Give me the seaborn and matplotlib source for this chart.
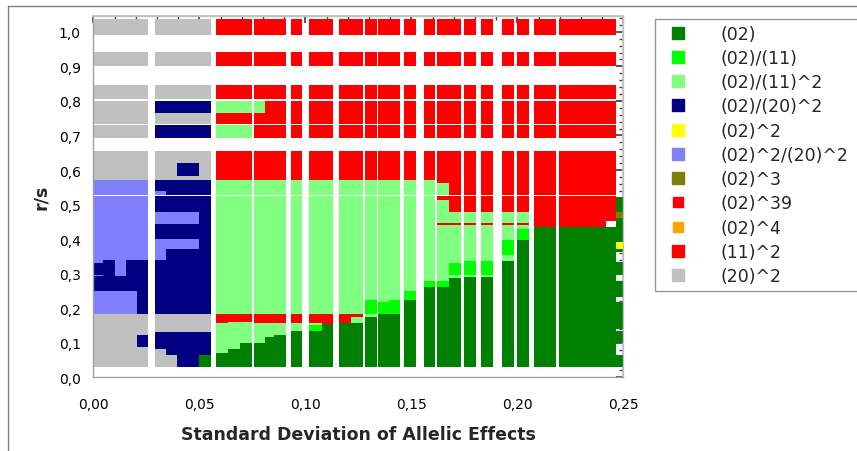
import matplotlib
matplotlib.use("Agg")
import matplotlib.pyplot as plt
import seaborn as sns
from matplotlib.lines import Line2D
from matplotlib.ticker import MultipleLocator, FuncFormatter

# ---------------- categories / colours ----------------
codes = ["DG", "BG", "LG", "NV", "YE", "LV", "OL", "R39", "OR", "RD", "GR"]
labels = ["(02)", "(02)/(11)", "(02)/(11)^2", "(02)/(20)^2", "(02)^2",
          "(02)^2/(20)^2", "(02)^3", "(02)^39", "(02)^4", "(11)^2", "(20)^2"]
colors = ["#008000", "#00ff00", "#80ff80", "#000080", "#ffff00",
          "#8080ff", "#808000", "#ff0000", "#ffa500", "#ff0000", "#c0c0c0"]
marker_sizes = [9, 9, 9, 9, 9, 9, 9, 7, 7, 9, 9]

# ---------------- row bands (r/s) ----------------
upper_bands = [(0.992, 1.036), (0.900, 0.942), (0.807, 0.845),
               (0.734, 0.766), (0.766, 0.801), (0.694, 0.729)]
mid_base = 0.529
low_base = 0.029

GRAY6 = ["GR"] * 6
RED6 = ["RD"] * 6
NONE6 = [None] * 6

# ---------------- sub-columns (SD of allelic effects) ----------------
sub_x0 = [0.0000, 0.0047, 0.0102, 0.0153, 0.0205,
          0.0291, 0.0343, 0.0393, 0.0499,
          0.0577, 0.0634, 0.0692,
          0.0759, 0.0810, 0.0852,
          0.0933, 0.1019, 0.1077, 0.1159, 0.1216,
          0.1282, 0.1341, 0.1392, 0.1464, 0.1560,
          0.1623, 0.1679, 0.1749, 0.1827, 0.1928, 0.1997,
          0.2079, 0.2197, 0.2417, 0.2467]
sub_x1 = [0.0047, 0.0102, 0.0153, 0.0205, 0.0259,
          0.0343, 0.0393, 0.0499, 0.0555,
          0.0634, 0.0692, 0.0749,
          0.0810, 0.0852, 0.0909,
          0.0986, 0.1077, 0.1132, 0.1216, 0.1274,
          0.1338, 0.1392, 0.1447, 0.1521, 0.1613,
          0.1679, 0.1733, 0.1805, 0.1884, 0.1984, 0.2054,
          0.2184, 0.2417, 0.2467, 0.2499]

sub_upper = ([GRAY6] * 5 +
             [["GR", "GR", "GR", "GR", "NV", "NV"]] * 4 +
             [["RD", "RD", "RD", "RD", "LG", "LG"]] * 3 +
             [["RD", "RD", "RD", "RD", "LG", "RD"]] +
             [RED6] * 21 +
             [NONE6])

mid_c1 = [("LV", 0.572), ("GR", 0.654)]
mid_lg = [("LG", 0.572), ("RD", 0.654)]
mid_rd = [("RD", 0.654)]
sub_mid = ([mid_c1] * 5 +
           [[("LV", 0.540), ("NV", 0.572), ("GR", 0.654)],
            [("NV", 0.572), ("GR", 0.654)],
            [("NV", 0.572), ("GR", 0.584), ("NV", 0.621), ("GR", 0.654)],
            [("NV", 0.572), ("GR", 0.654)]] +
           [mid_lg] * 16 +
           [[("LG", 0.563), ("RD", 0.654)]] +
           [mid_rd] * 8 +
           [[]])

sub_low = [
    [("GR", 0.1835), ("LV", 0.251), ("NV", 0.293), ("LV", 0.297), ("NV", 0.331), ("LV", 0.526)],
    [("GR", 0.1835), ("LV", 0.251), ("NV", 0.340), ("LV", 0.526)],
    [("GR", 0.1835), ("LV", 0.251), ("NV", 0.293), ("LV", 0.526)],
    [("GR", 0.1835), ("LV", 0.251), ("NV", 0.340), ("LV", 0.526)],
    [("GR", 0.087), ("NV", 0.1226), ("GR", 0.1835), ("NV", 0.340), ("LV", 0.526)],
    [("GR", 0.082), ("NV", 0.132), ("GR", 0.1835), ("NV", 0.340), ("LV", 0.401), ("NV", 0.444), ("LV", 0.478), ("NV", 0.526)],
    [("GR", 0.065), ("NV", 0.132), ("GR", 0.1835), ("NV", 0.372), ("LV", 0.401), ("NV", 0.444), ("LV", 0.478), ("NV", 0.526)],
    [("NV", 0.132), ("GR", 0.1835), ("NV", 0.372), ("LV", 0.401), ("NV", 0.444), ("LV", 0.478), ("NV", 0.526)],
    [("DG", 0.065), ("NV", 0.132), ("GR", 0.1835), ("NV", 0.526)],
    [("DG", 0.070), ("LG", 0.157), ("RD", 0.1835), ("LG", 0.526)],
    [("DG", 0.082), ("LG", 0.159), ("RD", 0.1835), ("LG", 0.526)],
    [("DG", 0.0994), ("LG", 0.159), ("RD", 0.1835), ("LG", 0.526)],
    [("DG", 0.0994), ("LG", 0.158), ("RD", 0.1835), ("LG", 0.526)],
    [("DG", 0.116), ("LG", 0.158), ("RD", 0.1835), ("LG", 0.526)],
    [("DG", 0.1226), ("LG", 0.158), ("RD", 0.1835), ("LG", 0.526)],
    [("DG", 0.134), ("LG", 0.158), ("RD", 0.1835), ("LG", 0.526)],
    [("DG", 0.134), ("BG", 0.152), ("LG", 0.158), ("RD", 0.1835), ("LG", 0.526)],
    [("DG", 0.155), ("RD", 0.1835), ("LG", 0.526)],
    [("DG", 0.158), ("RD", 0.1835), ("LG", 0.526)],
    [("DG", 0.158), ("LG", 0.1757), ("RD", 0.1835), ("LG", 0.526)],
    [("DG", 0.174), ("LG", 0.1835), ("BG", 0.224), ("LG", 0.526)],
    [("DG", 0.1835), ("BG", 0.217), ("LG", 0.526)],
    [("DG", 0.1835), ("BG", 0.224), ("LG", 0.526)],
    [("DG", 0.224), ("BG", 0.249), ("LG", 0.526)],
    [("DG", 0.261), ("BG", 0.280), ("LG", 0.526)],
    [("DG", 0.261), ("BG", 0.280), ("LG", 0.441), ("RD", 0.446), ("LG", 0.512), ("RD", 0.526)],
    [("DG", 0.287), ("LG", 0.297), ("BG", 0.331), ("LG", 0.441), ("RD", 0.446), ("LG", 0.478), ("RD", 0.526)],
    [("DG", 0.290), ("LG", 0.297), ("BG", 0.338), ("LG", 0.441), ("RD", 0.446), ("LG", 0.478), ("RD", 0.526)],
    [("DG", 0.290), ("LG", 0.297), ("BG", 0.338), ("LG", 0.441), ("RD", 0.446), ("LG", 0.478), ("RD", 0.526)],
    [("DG", 0.338), ("LG", 0.354), ("BG", 0.396), ("LG", 0.441), ("RD", 0.446), ("LG", 0.478), ("RD", 0.526)],
    [("DG", 0.396), ("BG", 0.428), ("LG", 0.441), ("RD", 0.446), ("LG", 0.478), ("RD", 0.526)],
    [("DG", 0.435), ("RD", 0.526)],
    [("DG", 0.435), ("RD", 0.526)],
    [("DG", 0.435), ("W", 0.452), ("RD", 0.526)],
    [("DG", 0.0655), ("W", 0.0994), ("DG", 0.135), ("W", 0.140), ("DG", 0.219), ("W", 0.231),
     ("DG", 0.280), ("W", 0.297), ("DG", 0.335), ("W", 0.362), ("DG", 0.370), ("YE", 0.391),
     ("DG", 0.461), ("OL", 0.478), ("DG", 0.522)],
]

color_of = dict(zip(codes, colors))

# ---------------- figure ----------------
sns.set_theme(style="white")
plt.rcParams["font.family"] = ["DejaVu Sans"]

fig = plt.figure(figsize=(8.57, 4.52), dpi=100)
ax = fig.add_axes([0.1089, 0.1631, 0.6186, 0.7986])


def draw(x0, x1, y0, y1, code):
    if code is None or code == "W":
        return
    ax.bar(x0, y1 - y0, bottom=y0, width=x1 - x0, align="edge",
           color=color_of[code], linewidth=0)


for i in range(len(sub_x0)):
    x0, x1 = sub_x0[i], sub_x1[i]
    for (y0, y1), code in zip(upper_bands, sub_upper[i]):
        draw(x0, x1, y0, y1, code)
    base = mid_base
    for code, top in sub_mid[i]:
        draw(x0, x1, base, top, code)
        base = top
    base = low_base
    for code, top in sub_low[i]:
        draw(x0, x1, base, top, code)
        base = top

ax.set_xlim(0, 0.25)
ax.set_ylim(0, 1.045)

ax.xaxis.set_major_locator(MultipleLocator(0.05))
ax.xaxis.set_minor_locator(MultipleLocator(0.01))
ax.yaxis.set_major_locator(MultipleLocator(0.1))
ax.yaxis.set_minor_locator(MultipleLocator(0.02))
ax.xaxis.set_major_formatter(FuncFormatter(lambda v, p: f"{v:.2f}".replace(".", ",")))
ax.yaxis.set_major_formatter(FuncFormatter(lambda v, p: f"{v:.1f}".replace(".", ",")))

ax.tick_params(axis="both", which="major", direction="inout", length=8, width=0.8,
               color="#404040", labelsize=10, labelcolor="black", pad=5)
ax.tick_params(axis="both", which="minor", direction="inout", length=4, width=0.7,
               color="#404040")
ax.tick_params(axis="x", which="major", pad=10)

for s in ["left", "bottom"]:
    ax.spines[s].set_color("#a0a0a0")
    ax.spines[s].set_linewidth(1.0)
for s in ["top", "right"]:
    ax.spines[s].set_color("#c0c0c0")
    ax.spines[s].set_linewidth(1.0)

sec_x = ax.secondary_xaxis("top")
sec_x.xaxis.set_major_locator(MultipleLocator(0.05))
sec_x.xaxis.set_minor_locator(MultipleLocator(0.01))
sec_x.tick_params(which="major", direction="in", length=5, color="#404040", labeltop=False)
sec_x.tick_params(which="minor", direction="in", length=3, color="#404040")
sec_x.spines["top"].set_color("#c0c0c0")

sec_y = ax.secondary_yaxis("right")
sec_y.yaxis.set_major_locator(MultipleLocator(0.1))
sec_y.yaxis.set_minor_locator(MultipleLocator(0.02))
sec_y.tick_params(which="major", direction="in", length=5, color="#404040", labelright=False)
sec_y.tick_params(which="minor", direction="in", length=3, color="#404040")
sec_y.spines["right"].set_color("#c0c0c0")

ax.set_xlabel("Standard Deviation of Allelic Effects", fontsize=12.5,
              fontweight="bold", labelpad=10)
ax.set_ylabel("r/s", fontsize=12.5, fontweight="bold", labelpad=6)

handles = [Line2D([], [], marker="s", linestyle="", markersize=ms,
                  markerfacecolor=c, markeredgecolor=c)
           for c, ms in zip(colors, marker_sizes)]
leg_top = 1 - 19.5 / 452
leg = fig.legend(handles, labels, loc="upper left",
                 bbox_to_anchor=(655 / 857, 0.0, 215 / 857, leg_top),
                 mode="expand",
                 frameon=True, fancybox=False, edgecolor="#808080",
                 fontsize=12.5, handlelength=2.0, handletextpad=1.4,
                 labelspacing=0.36, borderpad=0.35, borderaxespad=0)
leg.get_frame().set_linewidth(1.0)

# outer frame lines of the original exported picture
fig.add_artist(Line2D([8 / 857, 1.0], [1 - 7 / 452, 1 - 7 / 452],
                      transform=fig.transFigure, color="#808080", linewidth=1))
fig.add_artist(Line2D([8 / 857, 8 / 857], [0.0, 1 - 7 / 452],
                      transform=fig.transFigure, color="#808080", linewidth=1))

fig.savefig("out.png", dpi=100)
